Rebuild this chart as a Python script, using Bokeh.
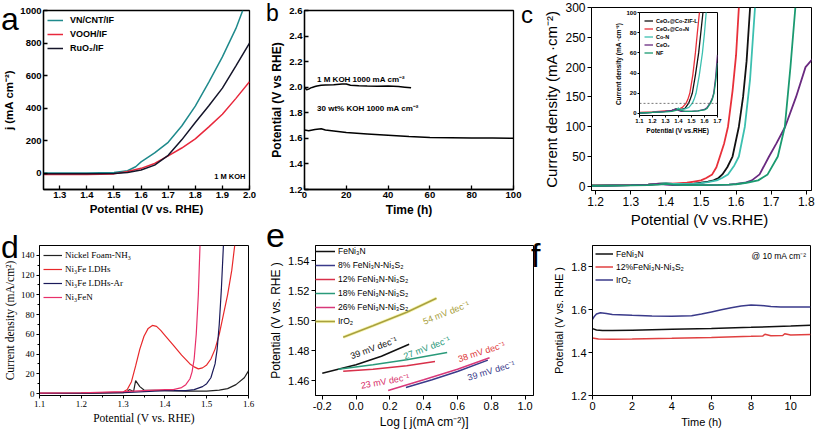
from bokeh.plotting import figure
from bokeh.models import Range1d, FixedTicker, PrintfTickFormatter, Label, Div
from bokeh.layouts import row, column
from bokeh.embed import file_html
from bokeh.resources import INLINE

# ---------------- data ----------------
# (a) LSV, 1 M KOH
a_teal_x = [1.24, 1.30, 1.40, 1.50, 1.55, 1.58, 1.60, 1.65, 1.70, 1.75, 1.80, 1.85, 1.90, 1.95, 1.975]
a_teal_y = [2, 2, 2, 4, 15, 40, 70, 125, 190, 290, 412, 560, 715, 890, 1000]
a_red_x = [1.24, 1.30, 1.40, 1.50, 1.55, 1.60, 1.65, 1.70, 1.75, 1.80, 1.85, 1.90, 1.95, 2.00]
a_red_y = [-8, -8, -8, -4, 10, 30, 60, 107, 155, 211, 285, 362, 460, 563]
a_blk_x = [1.24, 1.30, 1.40, 1.50, 1.55, 1.60, 1.65, 1.70, 1.75, 1.80, 1.85, 1.90, 1.95, 2.00]
a_blk_y = [-3, -3, -3, -1, 5, 20, 50, 110, 205, 312, 415, 523, 660, 800]
a_names = ["VN/CNT/IF", "VOOH/IF", "RuO₂/IF"]
a_xticks = [1.3, 1.4, 1.5, 1.6, 1.7, 1.8, 1.9, 2.0]
a_yticks = [0, 200, 400, 600, 800, 1000]

# (b) chronopotentiometry
b_1m_t = [0, 1, 2, 3, 4, 5, 6, 8, 10, 14, 18, 20, 22, 26, 30, 35, 40, 45, 48, 51]
b_1m_v = [2.00, 1.98, 1.985, 1.995, 2.0, 2.005, 2.01, 2.015, 2.018, 2.02, 2.025, 2.025, 2.015,
          2.012, 2.01, 2.008, 2.01, 2.005, 2.0, 1.995]
b_30_t = [0, 2, 5, 8, 10, 15, 20, 25, 30, 40, 50, 60, 70, 80, 90, 100]
b_30_v = [1.665, 1.66, 1.67, 1.675, 1.665, 1.655, 1.645, 1.64, 1.635, 1.625, 1.615, 1.607, 1.605, 1.603, 1.602, 1.60]
b_xticks = [0, 20, 40, 60, 80, 100]
b_yticks = [1.2, 1.4, 1.6, 1.8, 2.0, 2.2, 2.4, 2.6]

# (c) LSV, main panel
c_names = ["CeO₂@Co-ZIF-L", "CeO₂@Co₃N", "Co-N", "CeO₂", "NF"]
c_blk_x = [1.1, 1.2, 1.3, 1.35, 1.38, 1.4, 1.42, 1.45, 1.48, 1.5, 1.52, 1.536, 1.55, 1.561, 1.575, 1.59, 1.608, 1.62, 1.63, 1.64]
c_blk_y = [0.5, 1, 2, 3, 4.5, 5, 4, 4, 4.5, 6, 8, 10, 14, 20, 32, 50, 100, 150, 210, 300]
c_red_x = [1.1, 1.2, 1.3, 1.35, 1.4, 1.43, 1.46, 1.48, 1.5, 1.515, 1.532, 1.544, 1.554, 1.566, 1.577, 1.59, 1.6, 1.608]
c_red_y = [1, 1.5, 2.5, 3, 4, 5, 6, 8, 10, 14, 20, 32, 50, 72, 100, 160, 220, 300]
c_con_x = [1.1, 1.2, 1.3, 1.35, 1.38, 1.4, 1.42, 1.45, 1.48, 1.5, 1.52, 1.545, 1.56, 1.577, 1.595, 1.608, 1.625, 1.64, 1.654]
c_con_y = [0.5, 1, 2, 3, 4, 5, 4, 4, 4.5, 5.5, 7, 10, 14, 20, 35, 50, 100, 180, 300]
c_ceo_x = [1.1, 1.2, 1.3, 1.35, 1.38, 1.4, 1.42, 1.45, 1.5, 1.55, 1.58, 1.6, 1.625, 1.645, 1.667, 1.694, 1.715, 1.74, 1.771, 1.798, 1.82]
c_ceo_y = [0.5, 1, 2, 3, 4, 3, 2, 2, 2, 2.5, 3, 4, 6, 10, 20, 50, 72, 100, 150, 200, 215]
c_nf_x = [1.1, 1.2, 1.3, 1.35, 1.38, 1.4, 1.42, 1.45, 1.5, 1.55, 1.58, 1.6, 1.63, 1.663, 1.69, 1.719, 1.739, 1.755, 1.769]
c_nf_y = [0.5, 1, 1.5, 2, 3, 4, 3, 2, 2, 2.5, 3, 3.5, 6, 10, 20, 50, 100, 200, 300]
c_xticks = [1.2, 1.3, 1.4, 1.5, 1.6, 1.7, 1.8]
c_yticks = [0, 50, 100, 150, 200, 250, 300]

# (c) inset
ci_blk_x = [1.1, 1.2, 1.3, 1.35, 1.38, 1.4, 1.42, 1.45, 1.477, 1.49, 1.506, 1.53, 1.555, 1.57, 1.588, 1.6]
ci_blk_y = [0.5, 1, 2, 3, 4.5, 5, 4, 5, 10, 14, 20, 38, 60, 78, 100, 115]
ci_red_x = [1.1, 1.2, 1.3, 1.35, 1.4, 1.43, 1.458, 1.472, 1.487, 1.51, 1.53, 1.545, 1.561, 1.57]
ci_red_y = [1, 1.5, 2.5, 3, 4, 6, 10, 14, 20, 38, 60, 80, 100, 112]
ci_con_x = [1.1, 1.2, 1.3, 1.35, 1.38, 1.4, 1.42, 1.45, 1.48, 1.506, 1.52, 1.535, 1.56, 1.584, 1.6, 1.613, 1.625]
ci_con_y = [0.5, 1, 2, 3, 4, 5, 4, 4.5, 6, 10, 14, 20, 38, 60, 80, 100, 115]
ci_ceo_x = [1.1, 1.2, 1.3, 1.35, 1.38, 1.4, 1.42, 1.45, 1.5, 1.55, 1.6, 1.62, 1.642, 1.66, 1.671, 1.685, 1.7]
ci_ceo_y = [0.5, 1, 2, 3, 4, 3, 2, 2, 2, 2.5, 4, 6, 10, 15, 20, 35, 58]
ci_nf_x = [1.1, 1.2, 1.3, 1.35, 1.38, 1.4, 1.42, 1.45, 1.5, 1.55, 1.6, 1.62, 1.645, 1.66, 1.673, 1.687, 1.7]
ci_nf_y = [0.5, 1, 1.5, 2, 3, 4, 3, 2, 2, 2.5, 3.5, 5, 10, 14, 20, 33, 50]
ci_ref_j = 10
ci_xticks = [1.1, 1.2, 1.3, 1.4, 1.5, 1.6, 1.7]
ci_yticks = [0, 20, 40, 60, 80, 100]

# (d) LSV
d_names = ["Nickel Foam-NH₃", "Ni₃Fe LDHs", "Ni₃Fe LDHs-Ar", "Ni₃FeN"]
d_nf_x = [1.1, 1.2, 1.3, 1.31, 1.315, 1.32, 1.325, 1.33, 1.335, 1.34, 1.35, 1.4, 1.45, 1.5, 1.53, 1.55, 1.57, 1.59, 1.6]
d_nf_y = [0.3, 0.4, 0.8, 2, 4, 3, 2, 13, 10, 7, 3.5, 3, 2.5, 2.5, 3.5, 5, 9, 16, 23]
d_ldh_x = [1.1, 1.2, 1.3, 1.31, 1.32, 1.33, 1.34, 1.35, 1.36, 1.37, 1.38, 1.39, 1.40, 1.42, 1.44, 1.46, 1.47, 1.48,
           1.49, 1.50, 1.51, 1.52, 1.53, 1.54, 1.55, 1.56, 1.567]
d_ldh_y = [0.3, 0.5, 1.5, 4, 12, 28, 45, 58, 66, 69, 68, 64, 59, 49, 39, 30, 27, 25, 26, 29, 35, 45, 60, 80, 100, 125, 150]
d_ar_x = [1.1, 1.2, 1.3, 1.35, 1.4, 1.45, 1.47, 1.49, 1.5, 1.51, 1.52, 1.525, 1.53, 1.535, 1.54]
d_ar_y = [0.2, 0.3, 1, 2, 3, 3, 4, 7, 10, 16, 30, 45, 70, 105, 150]
d_n_x = [1.1, 1.2, 1.3, 1.35, 1.4, 1.42, 1.44, 1.45, 1.46, 1.465, 1.47, 1.475, 1.48, 1.484]
d_n_y = [0.5, 0.8, 2, 3, 4, 4, 6, 9, 15, 22, 35, 60, 100, 150]
d_xticks = [1.1, 1.2, 1.3, 1.4, 1.5, 1.6]
d_xminor = [1.15, 1.25, 1.35, 1.45, 1.55]
d_yticks = [0, 20, 40, 60, 80, 100, 120, 140]
d_yminor = [10, 30, 50, 70, 90, 110, 130]

# (e) Tafel
e_names = ["FeNi₃N", "8% FeNi₃N-Ni₃S₂", "12% FeNi₃N-Ni₃S₂", "18% FeNi₃N-Ni₃S₂", "26% FeNi₃N-Ni₃S₂", "IrO₂"]
e_fe_x = [-0.2, 0.0, 0.15, 0.314]
e_fe_y = [1.4649, 1.4705, 1.4762, 1.4842]
e_8_x = [0.295, 0.45, 0.60, 0.78]
e_8_y = [1.4553, 1.4605, 1.466, 1.4736]
e_12_x = [-0.076, 0.1, 0.3, 0.467]
e_12_y = [1.4661, 1.4675, 1.4698, 1.4726]
e_18_x = [-0.105, 0.1, 0.3, 0.539]
e_18_y = [1.4675, 1.4705, 1.4738, 1.4787]
e_26_x = [0.19, 0.4, 0.6, 0.79]
e_26_y = [1.4533, 1.4605, 1.4675, 1.4752]
e_ir_x = [-0.076, 0.1, 0.3, 0.476]
e_ir_y = [1.4888, 1.4965, 1.5055, 1.5148]
e_slopes = ["54 mV dec⁻¹", "39 mV dec⁻¹", "27 mV dec⁻¹", "23 mV dec⁻¹", "38 mV dec⁻¹", "39 mV dec⁻¹"]
e_slope_x = [0.533, 0.105, 0.419, 0.171, 0.743, 0.80]
e_slope_y = [1.5051, 1.4817, 1.4817, 1.4594, 1.4791, 1.4665]
e_slope_ang = [0.38, 0.35, 0.37, 0.18, 0.31, 0.29]
e_xticks = [-0.2, 0.0, 0.2, 0.4, 0.6, 0.8, 1.0]
e_yticks = [1.46, 1.48, 1.50, 1.52, 1.54]

# (f) stability at 10 mA cm-2
f_names = ["FeNi₃N", "12%FeNi₃N-Ni₃S₂", "IrO₂"]
f_ir_t = [0, 0.1, 0.2, 0.4, 0.7, 1, 2, 3, 4, 5, 5.5, 6, 6.5, 7, 7.5, 8, 8.5, 9, 9.5, 10, 11]
f_ir_v = [1.555, 1.57, 1.58, 1.586, 1.583, 1.578, 1.574, 1.571, 1.570, 1.572, 1.58, 1.59, 1.6, 1.61, 1.618,
          1.622, 1.62, 1.615, 1.613, 1.613, 1.613]
f_fe_t = [0, 0.2, 0.5, 1, 2, 4, 6, 8, 10, 11]
f_fe_v = [1.512, 1.506, 1.503, 1.503, 1.505, 1.509, 1.513, 1.518, 1.524, 1.528]
f_12_t = [0, 0.3, 1, 2, 4, 6, 8, 8.6, 8.7, 9, 9.6, 9.7, 10, 11]
f_12_v = [1.468, 1.464, 1.463, 1.464, 1.467, 1.471, 1.476, 1.478, 1.486, 1.479, 1.480, 1.488, 1.482, 1.485]
f_xticks = [0, 2, 4, 6, 8, 10]
f_yticks = [1.2, 1.4, 1.6, 1.8]

panel_letters = ["a", "b", "c", "d", "e", "f"]

SANS = "Liberation Sans"
SERIF = "Liberation Serif"


def fig(w, h, xr, yr, mb, transparent=False):
    l, r, t, b = mb
    p = figure(width=w, height=h, x_range=Range1d(*xr), y_range=Range1d(*yr),
               output_backend="svg", toolbar_location=None,
               min_border_left=l, min_border_right=r, min_border_top=t, min_border_bottom=b)
    p.xgrid.visible = False
    p.ygrid.visible = False
    p.outline_line_color = "black"
    p.outline_line_width = 1
    p.outline_line_alpha = 1
    p.border_fill_color = None
    if transparent:
        p.background_fill_color = None
    return p


def style(p, font, tsize, lsize, weight, tin, tout, xt, yt, xfmt, yfmt, xtitle, ytitle,
          xminor=None, yminor=None, ls=2, ts=2, lw=1):
    p.xaxis.axis_label = xtitle
    p.yaxis.axis_label = ytitle
    for ax, ticks, minor, fmt in ((p.xaxis[0], xt, xminor, xfmt), (p.yaxis[0], yt, yminor, yfmt)):
        ax.ticker = FixedTicker(ticks=ticks, minor_ticks=minor if minor else [])
        if fmt:
            ax.formatter = PrintfTickFormatter(format=fmt)
        ax.major_label_text_font = font
        ax.major_label_text_font_size = f"{tsize}px"
        ax.major_label_text_font_style = weight
        ax.major_label_text_color = "black"
        ax.axis_label_text_font = font
        ax.axis_label_text_font_size = f"{lsize}px"
        ax.axis_label_text_font_style = weight
        ax.axis_label_text_color = "black"
        ax.major_tick_in = tin
        ax.major_tick_out = tout
        ax.minor_tick_in = 0
        ax.minor_tick_out = 2 if minor else 0
        ax.major_label_standoff = ls
        ax.axis_label_standoff = ts
        ax.axis_line_color = "black"
        ax.axis_line_width = lw
        ax.major_tick_line_color = "black"
        ax.major_tick_line_width = lw
        ax.minor_tick_line_color = "black"


def legend(p, m, h, s, gw, standoff, font, size, weight="normal"):
    lg = p.legend[0]
    lg.location = "top_left"
    lg.padding = 0
    lg.margin = m
    lg.spacing = s
    lg.label_height = h
    lg.glyph_height = h
    lg.glyph_width = gw
    lg.label_standoff = standoff
    lg.label_text_font = font
    lg.label_text_font_size = f"{size}px"
    lg.label_text_font_style = weight
    lg.label_text_color = "black"
    lg.border_line_alpha = 0
    lg.background_fill_alpha = 0


def note(p, txt, x, y, size, color="black", weight="normal", align="left", angle=0.0, font=SANS):
    p.add_layout(Label(x=x, y=y, text=txt, text_font=font, text_font_size=f"{size}px",
                       text_color=color, text_font_style=weight, text_align=align,
                       text_baseline="middle", angle=angle))


def letter_div(txt, left, baseline, size, row_top, flow_x):
    # zero-net-width overlay placed at the end of a row
    top = baseline - 0.8465 * size
    w = int(size * 0.75)
    h = int(size * 1.15)
    ml = int(round(left - flow_x))
    mr = -ml - w
    mt = int(round(top - row_top))
    html = (f'<div style="font-family:\'Liberation Sans\';font-size:{size}px;line-height:{size}px;'
            f'color:black;margin:0;padding:0;white-space:nowrap">{txt}</div>')
    return Div(text=html, width=w, height=h, margin=(mt, mr, 0, ml))


W1, W2, W3 = 266, 274, 276
H1, H2 = 230, 211
ROW_END = W1 + W2 + W3

# ---------------- panel a ----------------
pa = fig(W1, H1, (1.24, 2.0), (-100, 1000), (40, 17, 6, 41))
style(pa, SANS, 9.5, 11.5, "bold", 4, 0, a_xticks, a_yticks, "%.1f", None,
      "Potential (V vs. RHE)", "j (mA cm⁻²)", lw=1.3)
pa.outline_line_width = 1.3
pa.line(a_teal_x, a_teal_y, color="#1f8a8c", line_width=1.5, legend_label=a_names[0])
pa.line(a_red_x, a_red_y, color="#e8283c", line_width=1.5, legend_label=a_names[1])
pa.line(a_blk_x, a_blk_y, color="#15152a", line_width=1.5, legend_label=a_names[2])
legend(pa, 4, 12, 2, 16, 7, SANS, 9, "bold")
note(pa, "1 M KOH", 1.985, -22, 7.5, weight="bold", align="right")

# ---------------- panel b ----------------
pb = fig(W2, H1, (0, 100), (1.2, 2.6), (38, 27, 10, 38))
style(pb, SANS, 9.5, 12, "bold", 4, 0, b_xticks, b_yticks, None, "%.1f",
      "Time (h)", "Potential (V vs RHE)", lw=1.3)
pb.outline_line_width = 1.3
pb.line(b_1m_t, b_1m_v, color="black", line_width=1.5)
pb.line(b_30_t, b_30_v, color="black", line_width=1.5)
note(pb, "1 M KOH 1000 mA cm⁻²", 6, 2.062, 8, weight="bold")
note(pb, "30 wt% KOH 1000 mA cm⁻²", 6, 1.83, 8, weight="bold")

# ---------------- panel c (main + inset) ----------------
pc = fig(W3, H1, (1.188, 1.815), (-7, 300), (45, 1, 7, 38), transparent=True)
style(pc, SANS, 12, 15, "normal", 0, 4, c_xticks, c_yticks, "%.1f", None,
      "Potential  (V vs.RHE)", "Current density (mA ·cm⁻²)", ls=2, ts=2)
c_cols = ["#111111", "#e8303a", "#3cc0b0", "#6a2a80", "#1a9a70"]
for xs, ys, col in zip([c_blk_x, c_red_x, c_con_x, c_ceo_x, c_nf_x],
                       [c_blk_y, c_red_y, c_con_y, c_ceo_y, c_nf_y], c_cols):
    pc.line(xs, ys, color=col, line_width=1.8)

pci = fig(134, 126, (1.1, 1.7), (-2, 100), (25, 5, 2, 19))
pci.border_fill_color = "white"
style(pci, SANS, 6, 6.5, "bold", 0, 2, ci_xticks, ci_yticks, "%.1f", None,
      "Potential  (V vs.RHE)", "Current density (mA ·cm⁻²)", ls=1, ts=1)
for xs, ys, col, nm in zip([ci_blk_x, ci_red_x, ci_con_x, ci_ceo_x, ci_nf_x],
                           [ci_blk_y, ci_red_y, ci_con_y, ci_ceo_y, ci_nf_y], c_cols, c_names):
    pci.line(xs, ys, color=col, line_width=1.3, legend_label=nm)
pci.line([ci_xticks[0], ci_xticks[-1]], [ci_ref_j, ci_ref_j], color="#555555", line_width=0.8, line_dash="2 2")
legend(pci, 5, 7, 1, 9, 3, SANS, 5.5, "bold")
pci.margin = (10, 0, 0, 48)
pc.margin = (-136, 0, 0, 0)
col_c = column(pci, pc)

# ---------------- panel d ----------------
pd_ = fig(W1, H2, (1.1, 1.6), (-2, 150), (36, 18, 15, 46))
style(pd_, SERIF, 9, 11.5, "normal", 0, 3, d_xticks, d_yticks, "%.1f", None,
      "Potential (V vs. RHE)", "Current density (mA/cm²)", xminor=d_xminor, yminor=d_yminor, ls=2, ts=2)
pd_.line(d_nf_x, d_nf_y, color="#222222", line_width=1.2, legend_label=d_names[0])
pd_.line(d_ldh_x, d_ldh_y, color="#e8282a", line_width=1.2, legend_label=d_names[1])
pd_.line(d_ar_x, d_ar_y, color="#1a1a5a", line_width=1.2, legend_label=d_names[2])
pd_.line(d_n_x, d_n_y, color="#e8306a", line_width=1.2, legend_label=d_names[3])
legend(pd_, 4, 12, 2, 19, 3, SERIF, 9)

# ---------------- panel e ----------------
pe = fig(W2, H2, (-0.24, 1.05), (1.45, 1.55), (41, 7, 13, 36))
style(pe, SANS, 11, 12, "normal", 0, 4, e_xticks, e_yticks, "%.1f", "%.2f",
      "Log [ j(mA cm⁻²)]", "Potential (V vs. RHE )", ls=2, ts=2)
e_xs = [e_fe_x, e_8_x, e_12_x, e_18_x, e_26_x, e_ir_x]
e_ys = [e_fe_y, e_8_y, e_12_y, e_18_y, e_26_y, e_ir_y]
e_cols = ["#111111", "#3a3a8a", "#d8304a", "#2a9a7a", "#d8387a", "#a8a040"]
for xs, ys, col, nm in zip(e_xs, e_ys, e_cols, e_names):
    if nm == e_names[-1]:
        pe.line(xs, ys, color="#f2ee70", line_width=3.2, alpha=0.55, legend_label=nm)
    pe.line(xs, ys, color=col, line_width=1.5, legend_label=nm)
slope_cols = ["#a8a040", "#111111", "#2a9a7a", "#d8306a", "#e03a3a", "#3a3a8a"]
for t, x, y, a, c in zip(e_slopes, e_slope_x, e_slope_y, e_slope_ang, slope_cols):
    note(pe, t, x, y, 9, color=c, align="center", angle=a)
legend(pe, 0, 12, 2, 20, 3, SANS, 8.5)

# ---------------- panel f ----------------
pf = fig(W3, H2, (0, 11), (1.2, 1.9), (52, 6, 12, 33))
style(pf, SANS, 11, 11, "normal", 0, 4, f_xticks, f_yticks, None, "%.1f",
      "Time (h)", "Potential (V vs. RHE )", ls=2, ts=3)
pf.line(f_fe_t, f_fe_v, color="#111111", line_width=1.5, legend_label=f_names[0])
pf.line(f_12_t, f_12_v, color="#e04040", line_width=1.5, legend_label=f_names[1])
pf.line(f_ir_t, f_ir_v, color="#3a3a8a", line_width=1.5, legend_label=f_names[2])
legend(pf, 3, 11, 2, 18, 3, SANS, 8.5)
note(pf, "@ 10 mA cm⁻²", 10.8, 1.852, 8.5, align="right")

# ---------------- panel letters (overlay divs) ----------------
top_letters = [letter_div(panel_letters[0], 1, 30, 32, 0, ROW_END),
               letter_div(panel_letters[1], 266, 21, 23, 0, ROW_END),
               letter_div(panel_letters[2], 521, 23, 24, 0, ROW_END)]
bot_letters = [letter_div(panel_letters[3], 1, 258, 32, H1, ROW_END),
               letter_div(panel_letters[4], 266, 247, 34, H1, ROW_END),
               letter_div(panel_letters[5], 531, 267, 34, H1, ROW_END)]

layout = column(row(pa, pb, col_c, *top_letters), row(pd_, pe, pf, *bot_letters))
open("out.html", "w").write(file_html(layout, INLINE))
